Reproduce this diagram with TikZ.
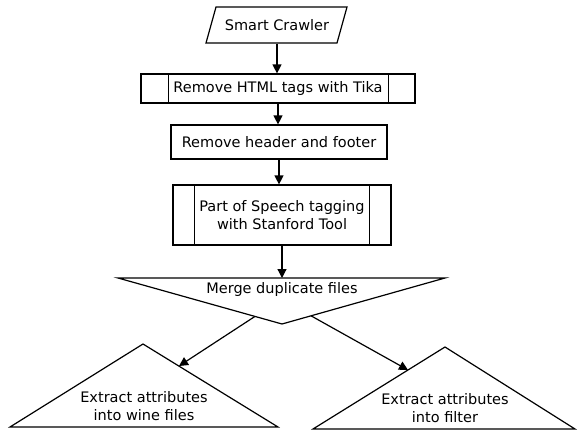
\documentclass[tikz,border=0pt]{standalone}
\usepackage{fontspec}
\setmainfont{DejaVu Sans}
\usetikzlibrary{arrows.meta}
\begin{document}
\begin{tikzpicture}[x=1pt, y=-1pt, line width=1.2pt,
  every node/.style={font=\fontsize{14.5}{18}\selectfont, inner sep=0pt},
  box/.style={draw, rectangle},
  outline/.style={draw, line join=miter},
  flow/.style={draw, -{Triangle[length=9pt,width=9pt]}}]
\useasboundingbox (0,0) rectangle (578,431);

% input: parallelogram
\draw[outline] (206,43) -- (216,7) -- (347,7) -- (337,43) -- cycle;
\node[minimum height=36pt] (crawler) at (277,25) {Smart Crawler};

% predefined process boxes and a plain process box
\node[box, minimum width=274pt, minimum height=29pt] (html) at (278,88.5) {Remove HTML tags with Tika};
\draw ([xshift=28pt]html.north west) -- ([xshift=28pt]html.south west);
\draw ([xshift=-27pt]html.north east) -- ([xshift=-27pt]html.south east);

\node[box, minimum width=216pt, minimum height=34pt] (header) at (279,142) {Remove header and footer};

\node[box, minimum width=218pt, minimum height=60pt, align=center] (pos) at (282,215)
  {Part of Speech tagging\\with Stanford Tool};
\draw ([xshift=22pt]pos.north west) -- ([xshift=22pt]pos.south west);
\draw ([xshift=-22pt]pos.north east) -- ([xshift=-22pt]pos.south east);

% merge: downward triangle
\draw[outline] (118,278) -- (445,278) -- (282,324) -- cycle;
\node (merge) at (282,289) {Merge duplicate files};
\coordinate (mergetop) at (282,278);
\coordinate (mergeL) at (255,316.4);
\coordinate (mergeR) at (311,315.8);

% extraction: upward triangles
\draw[outline] (10,427) -- (143,344) -- (278,427) -- cycle;
\node[align=center] (wine) at (144,406.5) {Extract attributes\\into wine files};
\coordinate (wineedge) at (179,366);

\draw[outline] (313,429) -- (445,347) -- (575,429) -- cycle;
\node[align=center] (filter) at (445,408) {Extract attributes\\into filter};
\coordinate (filteredge) at (408,370);

% connectors
\draw[flow] (crawler.south) -- (crawler.south |- html.north);
\draw[flow] (html.south) -- (html.south |- header.north);
\draw[flow] (header.south) -- (header.south |- pos.north);
\draw[flow] (pos.south) -- (mergetop);
\draw[flow] (mergeL) -- (wineedge);
\draw[flow] (mergeR) -- (filteredge);
\end{tikzpicture}
\end{document}
